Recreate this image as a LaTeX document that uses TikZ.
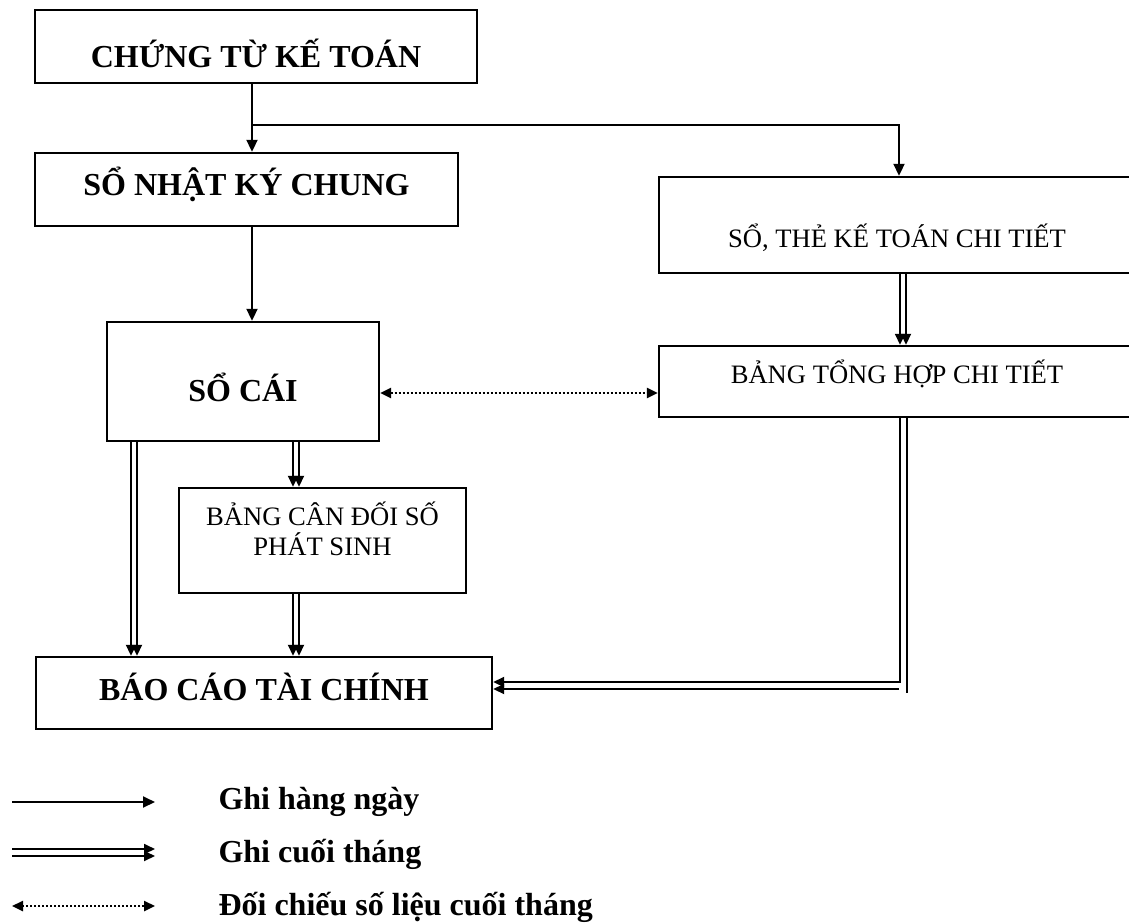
\documentclass[tikz,border=0pt]{standalone}
\usepackage{fontspec}
\setmainfont{Liberation Serif}
\usetikzlibrary{arrows.meta}

\tikzset{
  box/.style={draw, line width=2.4pt, inner sep=0pt, align=center},
  tline/.style={text height=#1, text depth=0pt},
  big/.style={font=\fontsize{32}{38}\selectfont\bfseries},
  small/.style={font=\fontsize{26.6}{30}\selectfont},
  arr/.style={-{Triangle[length=12pt,width=11pt]}, line width=2pt},
  arr2/.style={-{Triangle[length=11pt,width=10pt]}, line width=1.8pt},
  dots/.style={{Triangle[length=11pt,width=10pt]}-{Triangle[length=11pt,width=10pt]},
               line width=2.4pt, dash pattern=on 2pt off 2pt}
}

\begin{document}
\begin{tikzpicture}[x=1pt, y=-1pt]
\useasboundingbox (0,0) rectangle (1129,923);

% left column
\node[box, big, tline=43pt, minimum width=442pt, minimum height=73pt]
      (ctkt) at (256,46.5) {CHỨNG TỪ KẾ TOÁN};
\node[box, big, tline=11pt, minimum width=423pt, minimum height=73pt]
      (snkc) at (246.5,189.5) {SỔ NHẬT KÝ CHUNG};
\node[box, big, tline=39pt, minimum width=272pt, minimum height=119pt]
      (socai) at (243,381.5) {SỔ CÁI};
\node[box, small, text depth=24pt, minimum width=287pt, minimum height=105pt]
      (bcd) at (322.5,540.5) {BẢNG CÂN ĐỐI SỐ\\PHÁT SINH};
\node[box, big, tline=14pt, minimum width=456pt, minimum height=72pt]
      (bctc) at (264,693) {BÁO CÁO TÀI CHÍNH};

% right column
\node[box, small, tline=44pt, minimum width=476pt, minimum height=96pt]
      (sothe) at (897,225) {SỔ, THẺ KẾ TOÁN CHI TIẾT};
\node[box, small, tline=3pt, minimum width=476pt, minimum height=71pt]
      (bth) at (897,381.5) {BẢNG TỔNG HỢP CHI TIẾT};

% daily entries
\coordinate (split) at (252,125);
\draw[arr] (ctkt.south -| 252,0) -- (snkc.north -| 252,0);
\draw[arr] (split) -| (sothe.north -| 899,0);
\draw[arr] (snkc.south -| 252,0) -- (socai.north -| 252,0);

% month end entries
\foreach \x in {131,137}
  \draw[arr2] (socai.south -| \x,0) -- (bctc.north -| \x,0);
\foreach \x in {293,299} {
  \draw[arr2] (socai.south -| \x,0) -- (bcd.north -| \x,0);
  \draw[arr2] (bcd.south -| \x,0) -- (bctc.north -| \x,0);
}
\foreach \x in {900,906}
  \draw[arr2] (sothe.south -| \x,0) -- (bth.north -| \x,0);

\coordinate (bend) at (899,689);
\draw[arr2] (bth.south -| 900,0) |- (bctc.east |- 0,682);
\draw[line width=1.8pt] (bth.south -| 907,0) -- ++(0,275);
\draw[arr2] (bend) -- (bctc.east |- bend);

% cross check
\draw[dots] (socai.east |- 0,393) -- (bth.west |- 0,393);

% legend
\coordinate (k1) at (12,802);
\coordinate (k2) at (12,852.5);
\coordinate (k3) at (12,906);
\draw[arr] (k1) -- ++(143,0);
\foreach \dy in {-3.5,3.5}
  \draw[arr2] ([yshift=\dy]k2) -- ++(143,0);
\draw[dots] (k3) -- ++(143,0);
\node[big, anchor=base west] (t1) at (215,809) {Ghi hàng ngày};
\node[big, anchor=base west] (t2) at (215,862) {Ghi cuối tháng};
\node[big, anchor=base west] (t3) at (215,915) {Đối chiếu số liệu cuối tháng};
\end{tikzpicture}
\end{document}
